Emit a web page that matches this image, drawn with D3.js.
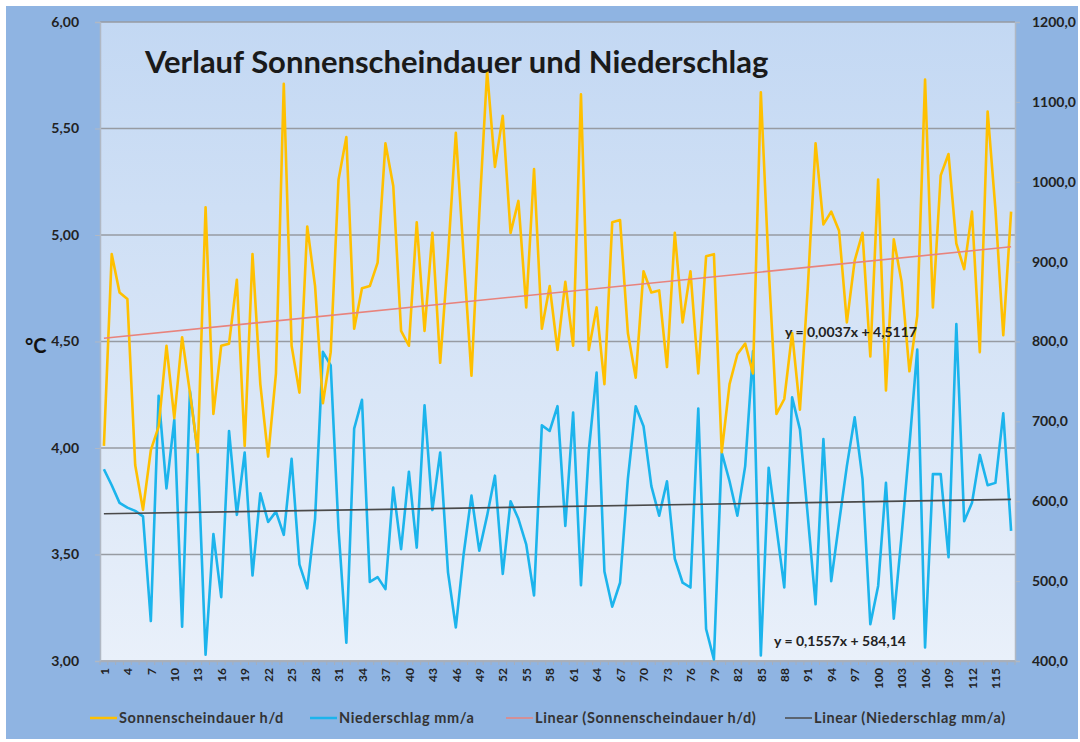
<!DOCTYPE html>
<html>
<head>
<meta charset="utf-8">
<title>Verlauf Sonnenscheindauer und Niederschlag</title>
<script src="https://d3js.org/d3.v7.min.js"></script>
<style>
  body{margin:0;background:#fff;}
  svg text{font-family:Lato,"Open Sans",sans-serif;}
</style>
</head>
<body>
<div id="chart"></div>
<script>
// Sonnenscheindauer h/d (left axis), one value per year index 1..117
var sonne = [4.01,4.91,4.73,4.70,3.92,3.71,3.99,4.10,4.48,4.14,
  4.52,4.26,3.98,5.13,4.16,4.48,4.49,4.79,4.01,4.91,
  4.30,3.96,4.35,5.71,4.48,4.26,5.04,4.76,4.21,4.45,
  5.26,5.46,4.56,4.75,4.76,4.87,5.43,5.23,4.55,4.48,
  5.06,4.55,5.01,4.40,4.90,5.48,4.90,4.34,5.10,5.77,
  5.32,5.56,5.01,5.16,4.66,5.31,4.56,4.76,4.46,4.78,
  4.48,5.66,4.46,4.66,4.30,5.06,5.07,4.54,4.33,4.83,
  4.73,4.74,4.38,5.01,4.59,4.83,4.35,4.90,4.91,3.98,
  4.30,4.44,4.49,4.35,5.67,4.85,4.16,4.23,4.54,4.18,
  4.75,5.43,5.05,5.11,5.02,4.59,4.88,5.01,4.43,5.26,
  4.27,4.98,4.78,4.36,4.62,5.73,4.66,5.28,5.38,4.96,
  4.84,5.11,4.45,5.58,5.12,4.53,5.11];

// Niederschlag mm/a (right axis)
var regen = [640,620,598,592,588,581,450,732,616,702,
  443,738,660,408,559,480,688,583,661,507,
  610,574,587,558,653,521,491,578,787,770,
  565,423,691,727,499,505,490,617,540,637,
  542,720,589,661,511,442,534,607,538,582,
  632,509,600,578,546,482,695,688,719,569,
  711,495,663,761,512,468,498,628,719,694,
  619,582,625,528,498,492,716,440,402,661,
  625,582,644,788,407,642,567,492,730,690,
  582,471,678,500,573,644,705,628,446,494,
  623,453,557,670,790,417,634,634,530,822,
  575,598,658,620,623,710,563];

var years = d3.range(1, sonne.length + 1);
var xTicks = years.filter(function(d){ return (d - 1) % 3 == 0; });
var leftTicks = [3.0, 3.5, 4.0, 4.5, 5.0, 5.5, 6.0];
var rightTicks = [400, 500, 600, 700, 800, 900, 1000, 1100, 1200];

// trend lines as given in the chart
var trendSonne = {m: 0.0037, b: 4.5117, label: "y = 0,0037x + 4,5117"};
var trendRegen = {m: 0.1557, b: 584.14, label: "y = 0,1557x + 584,14"};

var legendItems = [
  {name: "Sonnenscheindauer h/d", color: "#FFC000", w: 2.5},
  {name: "Niederschlag mm/a", color: "#1CB4EC", w: 2.5},
  {name: "Linear (Sonnenscheindauer h/d)", color: "#E8837C", w: 1.5},
  {name: "Linear (Niederschlag mm/a)", color: "#4a4a4a", w: 1.5}
];

var W = 1080, H = 742;
var plot = {left: 100, right: 1015, top: 22, bottom: 661};

var svg = d3.select("#chart").append("svg").attr("width", W).attr("height", H);

var defs = svg.append("defs");
var grad = defs.append("linearGradient").attr("id", "bg").attr("x1", 0).attr("y1", 0).attr("x2", 0).attr("y2", 1);
grad.append("stop").attr("offset", "0%").attr("stop-color", "#c3d8f3");
grad.append("stop").attr("offset", "100%").attr("stop-color", "#e9f0fa");

// outer area
svg.append("rect").attr("x", 6).attr("y", 6).attr("width", W - 8).attr("height", H - 9).attr("fill", "#8fb4e2");
svg.append("rect")
  .attr("x", plot.left).attr("y", plot.top)
  .attr("width", plot.right - plot.left).attr("height", plot.bottom - plot.top)
  .attr("fill", "url(#bg)");

var x = d3.scalePoint().domain(years).range([plot.left, plot.right]).padding(0.5);
var yL = d3.scaleLinear().domain([3, 6]).range([plot.bottom, plot.top]);
var yR = d3.scaleLinear().domain([400, 1200]).range([plot.bottom, plot.top]);

// gridlines
svg.append("g").selectAll("line").data(leftTicks).enter().append("line")
  .attr("x1", plot.left).attr("x2", plot.right)
  .attr("y1", function(d){ return yL(d); }).attr("y2", function(d){ return yL(d); })
  .attr("stroke", "#979ba2").attr("stroke-width", 1.5);

// axes
var fmtL = function(d){ return d3.format(".2f")(d).replace(".", ","); };
var fmtR = function(d){ return d3.format(".1f")(d).replace(".", ","); };
var axL = svg.append("g").attr("transform", "translate(" + plot.left + ",0)")
  .call(d3.axisLeft(yL).tickValues(leftTicks).tickFormat(fmtL).tickSize(5).tickPadding(16));
var axR = svg.append("g").attr("transform", "translate(" + plot.right + ",0)")
  .call(d3.axisRight(yR).tickValues(rightTicks).tickFormat(fmtR).tickSize(5).tickPadding(12));
var axB = svg.append("g").attr("transform", "translate(0," + plot.bottom + ")")
  .call(d3.axisBottom(x).tickValues(xTicks).tickSize(0).tickPadding(0));

[axL, axR].forEach(function(a){
  a.select(".domain").attr("stroke", "#b0b8c4").attr("stroke-width", 1.5);
  a.selectAll(".tick line").attr("stroke", "#b0b8c4");
  a.selectAll("text").attr("font-size", 14).attr("font-weight", 700).attr("fill", "#222");
});
axB.select(".domain").attr("stroke", "#a8afba").attr("stroke-width", 1.5);
axB.selectAll("text")
  .attr("font-size", 12).attr("font-weight", 700).attr("fill", "#222")
  .attr("text-anchor", "end")
  .attr("transform", "translate(0,7) rotate(-90)")
  .attr("x", 0).attr("y", 0).attr("dy", "0.35em");

// small category ticks along the bottom
svg.append("g").selectAll("line").data(years.concat([years.length + 1])).enter().append("line")
  .attr("x1", function(d){ return x(1) - x.step() / 2 + (d - 1) * x.step(); })
  .attr("x2", function(d){ return x(1) - x.step() / 2 + (d - 1) * x.step(); })
  .attr("y1", plot.bottom).attr("y2", plot.bottom + 4)
  .attr("stroke", "#a8afba");

// series lines
svg.append("path").datum(regen)
  .attr("fill", "none").attr("stroke", legendItems[1].color).attr("stroke-width", 2.6)
  .attr("stroke-linejoin", "round")
  .attr("d", d3.line().x(function(d, i){ return x(i + 1); }).y(function(d){ return yR(d); }));
svg.append("path").datum(sonne)
  .attr("fill", "none").attr("stroke", legendItems[0].color).attr("stroke-width", 2.6)
  .attr("stroke-linejoin", "round")
  .attr("d", d3.line().x(function(d, i){ return x(i + 1); }).y(function(d){ return yL(d); }));

// trend lines on top
svg.append("line")
  .attr("x1", x(1)).attr("x2", x(years.length))
  .attr("y1", yL(trendSonne.m * 1 + trendSonne.b))
  .attr("y2", yL(trendSonne.m * years.length + trendSonne.b))
  .attr("stroke", legendItems[2].color).attr("stroke-width", 1.6);
svg.append("line")
  .attr("x1", x(1)).attr("x2", x(years.length))
  .attr("y1", yR(trendRegen.m * 1 + trendRegen.b))
  .attr("y2", yR(trendRegen.m * years.length + trendRegen.b))
  .attr("stroke", legendItems[3].color).attr("stroke-width", 1.6);

// trend equations
svg.append("text").attr("x", 851).attr("y", 337).attr("text-anchor", "middle")
  .attr("font-size", 14).attr("font-weight", 700).attr("fill", "#222").text(trendSonne.label);
svg.append("text").attr("x", 840).attr("y", 646).attr("text-anchor", "middle")
  .attr("font-size", 14).attr("font-weight", 700).attr("fill", "#222").text(trendRegen.label);

// title
svg.append("text").attr("x", 145).attr("y", 73)
  .attr("font-size", 31).attr("font-weight", 700).attr("fill", "#1a1a1a")
  .text("Verlauf Sonnenscheindauer und Niederschlag");

// y axis unit
svg.append("text").attr("x", 25).attr("y", 353)
  .attr("font-size", 20).attr("font-weight", 700).attr("fill", "#111").text("°C");

// legend
var legX = [90, 310, 506, 785];
var leg = svg.append("g").selectAll("g").data(legendItems).enter().append("g")
  .attr("transform", function(d, i){ return "translate(" + legX[i] + ",718)"; });
leg.append("line").attr("x1", 0).attr("x2", 27).attr("y1", 0).attr("y2", 0)
  .attr("stroke", function(d){ return d.color; }).attr("stroke-width", function(d){ return d.w; });
leg.append("text").attr("x", 29).attr("y", 0).attr("dy", "0.35em")
  .attr("font-size", 14.5).attr("font-weight", 700).attr("fill", "#333")
  .attr("letter-spacing", 0.6)
  .text(function(d){ return d.name; });
</script>
</body>
</html>
